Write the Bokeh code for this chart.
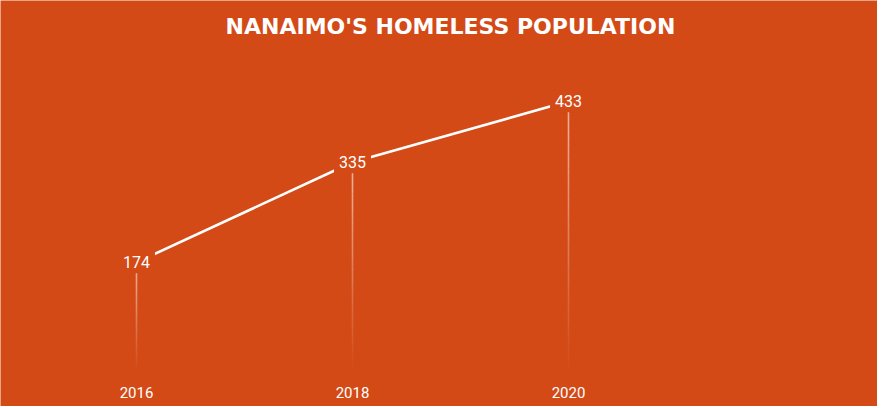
from bokeh.plotting import figure
from bokeh.models import ColumnDataSource, Label, Range1d
from bokeh.embed import file_html
from bokeh.resources import INLINE
from bokeh.core.properties import value

# ---- data ----
years = [2016, 2018, 2020]
population = [174, 335, 433]
year_labels = ["2016", "2018", "2020"]
title_text = "NANAIMO'S HOMELESS POPULATION"

BG = "#D34A17"
W, H = 877, 406

# pixel mapping helpers (layout only)
X0_PX, X_STEP = 136, 108.0      # px of first year, px per year
Y0_PX, Y_SCALE = 370, 0.6216    # px of zero line (from top), px per unit

x_start = years[0] - X0_PX / X_STEP
x_end = years[0] + (W - X0_PX) / X_STEP
y_end = Y0_PX / Y_SCALE
y_start = -(H - Y0_PX) / Y_SCALE

p = figure(width=W, height=H, output_backend="svg", toolbar_location=None,
           x_range=Range1d(x_start, x_end), y_range=Range1d(y_start, y_end),
           min_border=0, min_border_left=0, min_border_right=0,
           min_border_top=0, min_border_bottom=0)
p.axis.visible = False
p.grid.visible = False
p.outline_line_color = None
p.background_fill_color = BG
p.border_fill_color = BG

# fading vertical drop lines
N = 40
x0s, y0s, x1s, y1s, alphas = [], [], [], [], []
for yr, v in zip(years, population):
    for k in range(N):
        top = v * (1 - k / N)
        bot = v * (1 - (k + 1) / N)
        x0s.append(yr); x1s.append(yr)
        y0s.append(top); y1s.append(bot)
        alphas.append(0.6 * (1 - k / N))
p.segment(x0=x0s, y0=y0s, x1=x1s, y1=y1s, line_color="white",
          line_alpha=alphas, line_width=1.6)

src = ColumnDataSource(dict(x=years, y=population,
                            lab=[str(v) for v in population]))
p.line("x", "y", source=src, line_color="white", line_width=2.6)

p.text(x="x", y="y", text="lab", source=src,
       text_color="white", text_font=value("Roboto"),
       text_font_size="16px", text_align="center",
       text_baseline="middle", padding=5,
       background_fill_color=BG, background_fill_alpha=1.0)

# year labels (x-axis)
ysrc = ColumnDataSource(dict(x=years, y=[-35.4] * len(years), t=year_labels))
p.text(x="x", y="y", text="t", source=ysrc, text_color="white",
       text_font=value("Roboto"), text_font_size="15px",
       text_align="center", text_baseline="middle")

# title
title = Label(x=years[0] + (450 - X0_PX) / X_STEP, y=(Y0_PX - 26) / Y_SCALE,
              text=title_text, text_color="white",
              text_font="DejaVu Sans", text_font_style="bold",
              text_font_size="22px", text_align="center",
              text_baseline="middle")
p.add_layout(title)

open("out.html", "w").write(file_html(p, INLINE))
